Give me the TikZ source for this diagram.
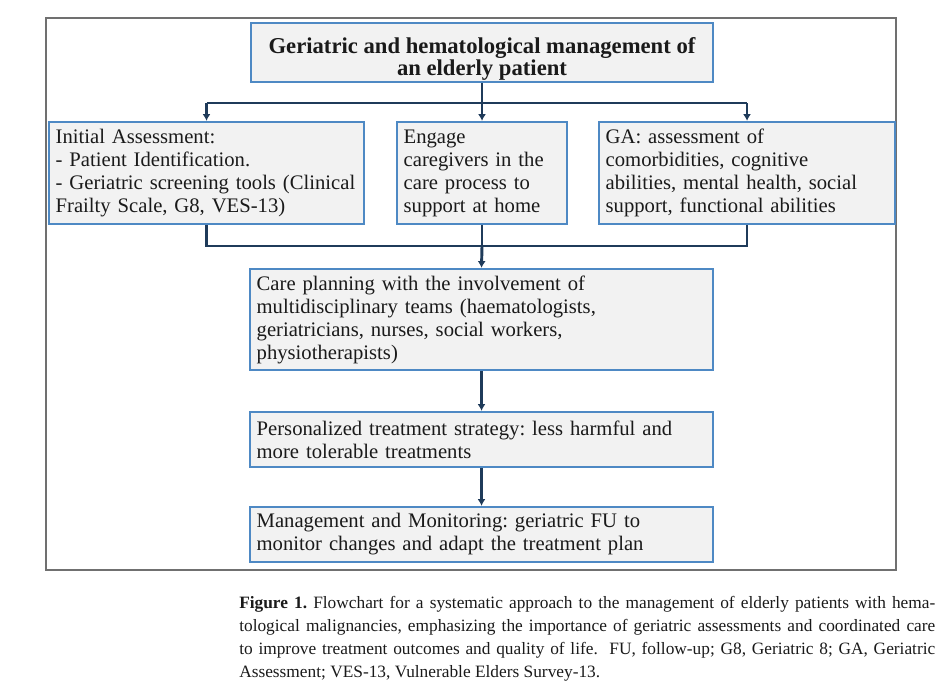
\documentclass[tikz,border=0pt]{standalone}
\usepackage{fontspec}
\setmainfont{Liberation Serif}
\usetikzlibrary{arrows.meta}
\definecolor{boxblue}{HTML}{4E89C4}
\definecolor{boxfill}{HTML}{F2F2F2}
\definecolor{navy}{HTML}{1F3B5A}
\definecolor{framegray}{HTML}{707070}
\definecolor{txt}{HTML}{1A1A1A}
\tikzset{
  flowbox/.style={draw=boxblue, line width=1.8pt, fill=boxfill, text=txt,
    inner xsep=5pt, inner ysep=0pt, align=left,
    font=\fontsize{15.5}{17.25}\selectfont\frenchspacing},
  titlebox/.style={draw=boxblue, line width=1.8pt, fill=boxfill, text=txt,
    inner sep=0pt, align=center,
    font=\fontsize{17}{15.5}\selectfont\bfseries},
  busline/.style={draw=navy, line width=2.2pt},
  flowarrow/.style={draw=navy, line width=2.2pt, -{Latex[length=5pt,width=6pt]}},
}
\begin{document}
\begin{tikzpicture}[x=0.75pt,y=-0.75pt]
\useasboundingbox (0,0) rectangle (941,693);
\draw[framegray, line width=1pt] (46,18) rectangle (896,570);

\node[titlebox, minimum width=346.5pt, minimum height=44.25pt] (title) at (482,52.5)
  {\rule{0pt}{21pt}Geriatric and hematological management of\\an elderly patient};

\node[flowbox, minimum width=236.25pt, minimum height=76.5pt, text width=226.25pt] (left) at (206.5,173)
  {Initial Assessment:\\- Patient Identification.\\- Geriatric screening tools (Clinical\\Frailty Scale, G8, VES-13)};
\node[flowbox, minimum width=127.5pt, minimum height=76.5pt, text width=117.5pt] (mid) at (482,173)
  {Engage\\caregivers in the\\care process to\\support at home};
\node[flowbox, minimum width=222pt, minimum height=76.5pt, text width=212pt] (ga) at (747,173)
  {GA: assessment of\\comorbidities, cognitive\\abilities, mental health, social\\support, functional abilities};

\node[flowbox, minimum width=347.25pt, minimum height=75.75pt, text width=337.25pt] (care) at (481.5,319.5)
  {Care planning with the involvement of\\multidisciplinary teams (haematologists,\\geriatricians, nurses, social workers,\\physiotherapists)};
\node[flowbox, minimum width=347.25pt, minimum height=41.25pt, text width=337.25pt] (treat) at (481.5,439.5)
  {Personalized treatment strategy: less harmful and\\more tolerable treatments};
\node[flowbox, minimum width=347.25pt, minimum height=41.25pt, text width=337.25pt] (mgmt) at (481.5,534.5)
  {Management and Monitoring: geriatric FU to\\monitor changes and adapt the treatment plan};

\coordinate (bustop) at (482,103);
\coordinate (busbot) at (482,246);

\draw[flowarrow] (title.south) -- (mid.north);
\draw[busline] (left.north |- bustop) -- (ga.north |- bustop);
\draw[flowarrow] (left.north |- bustop) -- (left.north);
\draw[flowarrow] (ga.north |- bustop) -- (ga.north);

\draw[busline] (left.south) -- (left.south |- busbot) -- (ga.south |- busbot) -- (ga.south);
\draw[busline] (mid.south) -- (busbot);
\draw[flowarrow] (busbot) -- (care.north);
\draw[flowarrow] (care.south) -- (treat.north);
\draw[flowarrow] (treat.south) -- (mgmt.north);

\node[anchor=north west, inner sep=0pt, text width=522pt, align=justify, text=txt,
  font=\fontsize{13}{17.25}\selectfont\frenchspacing] (caption) at (239,596)
  {\tolerance=9999\emergencystretch=20pt\hyphenpenalty=10000
  \textbf{Figure 1.} Flowchart for a systematic approach to the management of elderly patients with hema-\linebreak
  tological malignancies, emphasizing the importance of geriatric assessments and coordinated care\linebreak
  to improve treatment outcomes and quality of life.\ \ FU, follow-up; G8, Geriatric 8; GA, Geriatric\linebreak
  Assessment; VES-13, Vulnerable Elders Survey-13.};
\end{tikzpicture}
\end{document}
